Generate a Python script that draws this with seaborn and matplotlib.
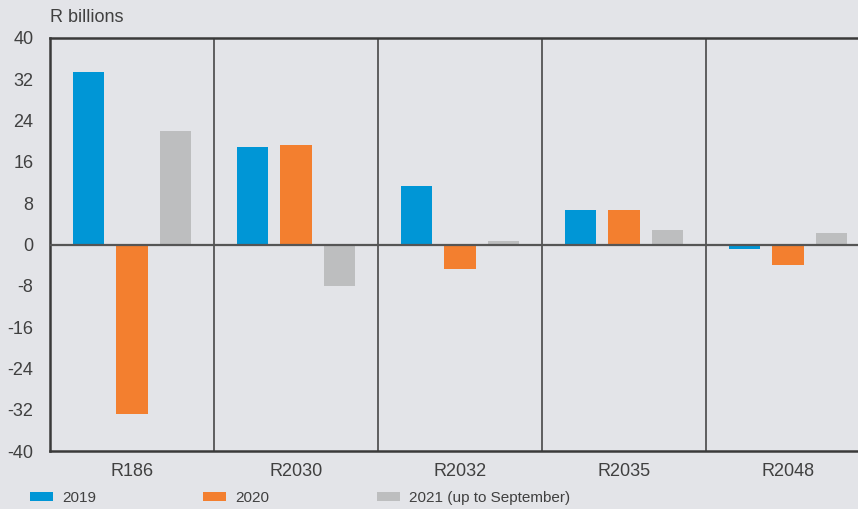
import numpy as np
import pandas as pd
import matplotlib.pyplot as plt
import seaborn as sns
from matplotlib.patches import Patch

bonds = ["R186", "R2030", "R2032", "R2035", "R2048"]
years = ["2019", "2020", "2021 (up to September)"]
v2019 = [33.5, 18.8, 11.4, 6.6, -0.8]
v2020 = [-32.9, 19.2, -4.7, 6.6, -3.9]
v2021 = [21.9, -8.1, 0.6, 2.9, 2.3]
colours = ["#0096d6", "#f37f2f", "#bdbebf"]

df = pd.DataFrame({
    "bond": bonds * 3,
    "year": [years[0]] * 5 + [years[1]] * 5 + [years[2]] * 5,
    "value": v2019 + v2020 + v2021,
})

bg = "#e3e4e8"
txt = "#404040"
line = "#3a3a3a"

sns.set_style("white")
plt.rcParams["font.family"] = ["Liberation Sans", "DejaVu Sans"]
plt.rcParams["axes.unicode_minus"] = False

fig = plt.figure(figsize=(8.58, 5.09), dpi=100, facecolor=bg)
# axes runs past the right edge of the picture, as in the reference
ax = fig.add_axes([50 / 858, 1 - 451 / 509, 820 / 858, 413 / 509])
ax.set_facecolor(bg)

sns.barplot(data=df, x="bond", y="value", hue="year", palette=colours,
            width=0.8, gap=0.29, ax=ax, legend=False, saturation=1,
            edgecolor="none", linewidth=0)

ax.set_ylim(-40, 40)
ax.set_xlim(-0.5, len(bonds) - 0.5)
ax.set_yticks(np.arange(-40, 41, 8))
ax.tick_params(axis="y", direction="in", length=11, width=1.5, color=line,
               labelsize=13, labelcolor=txt, pad=12)
ax.tick_params(axis="x", length=0, labelsize=13, labelcolor=txt, pad=9)
ax.set_xlabel("")
ax.set_ylabel("")

for s in ["left", "top", "bottom"]:
    ax.spines[s].set_color(line)
    ax.spines[s].set_linewidth(1.8)
ax.spines["right"].set_visible(False)

for i in range(1, len(bonds)):
    ax.axvline(i - 0.5, color=line, lw=1.1, zorder=3)
ax.axhline(0, color="#555555", lw=1.6, zorder=3)

fig.text(50 / 858, 1 - 18 / 509, "R billions", fontsize=13, color=txt,
         va="center", ha="left")

handles = [Patch(facecolor=c, edgecolor="none") for c in colours]
fig.legend(handles, years, loc="center left", ncol=3, mode="expand",
           bbox_to_anchor=(30 / 858, 1 - 498 / 509, 540 / 858, 0),
           frameon=False, fontsize=11, labelcolor=txt,
           handlelength=1.5, handleheight=0.6, handletextpad=0.6,
           borderaxespad=0, borderpad=0)

fig.savefig("out.png", dpi=100, facecolor=bg)
